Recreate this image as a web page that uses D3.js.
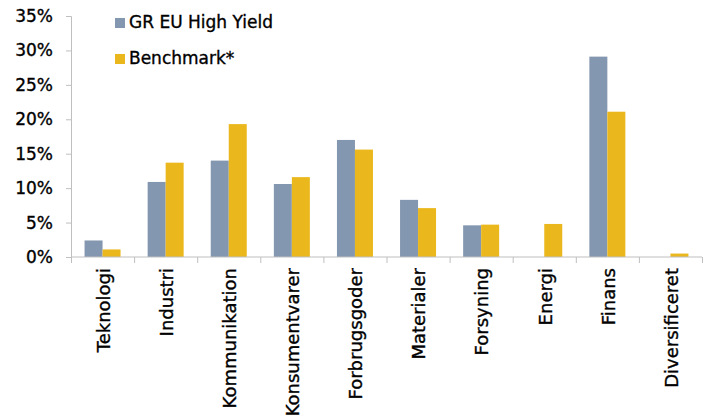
<!DOCTYPE html>
<html>
<head>
<meta charset="utf-8">
<script src="https://cdn.jsdelivr.net/npm/d3@7"></script>
<style>
  body { margin: 0; background: #fff; }
  svg { display: block; font-family: "DejaVu Sans", sans-serif; }
  text { stroke: #000; stroke-width: 0.35px; }
</style>
</head>
<body>
<div id="chart"></div>
<script>
// Data
const categories = ['Teknologi', 'Industri', 'Kommunikation', 'Konsumentvarer', 'Forbrugsgoder',
    'Materialer', 'Forsyning', 'Energi', 'Finans', 'Diversificeret'];
const seriesNames = ['GR EU High Yield', 'Benchmark*'];
const grValues = [2.4, 10.9, 14.0, 10.6, 17.0, 8.3, 4.6, 0, 29.1, 0];
const benchValues = [1.1, 13.7, 19.3, 11.6, 15.6, 7.1, 4.7, 4.8, 21.1, 0.5];
const yTicks = [0, 5, 10, 15, 20, 25, 30, 35];
const colors = ['#8497B0', '#EAB81C'];

const width = 706;
const height = 417;

const svg = d3.select('#chart')
    .append('svg')
    .attr('width', width)
    .attr('height', height);

// Scales
const x0 = d3.scaleBand()
    .domain(categories)
    .range([71, 702]);

const x1 = d3.scaleBand()
    .domain(seriesNames)
    .range([x0.bandwidth() / 2 - 18, x0.bandwidth() / 2 + 18]);

const y = d3.scaleLinear()
    .domain([0, 35])
    .range([257, 16]);

const axisColor = '#BFBFBF';

// Y axis
const yAxis = svg.append('g')
    .attr('transform', 'translate(71,0)')
    .call(d3.axisLeft(y).tickValues(yTicks).tickSize(5).tickPadding(13).tickFormat(d => d + '%'));
yAxis.select('.domain').attr('stroke', axisColor);
yAxis.selectAll('.tick line').attr('stroke', axisColor);
yAxis.selectAll('.tick text')
    .attr('font-size', '17px')
    .attr('fill', '#000')
    .attr('font-family', '"DejaVu Sans", sans-serif');

// Bars
const rows = categories.map((c, i) => ({ cat: c, values: [grValues[i], benchValues[i]] }));

const groups = svg.selectAll('.group')
    .data(rows)
    .enter()
    .append('g')
    .attr('class', 'group')
    .attr('transform', d => `translate(${x0(d.cat)},0)`);

groups.selectAll('rect')
    .data(d => d.values.map((v, i) => ({ name: seriesNames[i], value: v, i })))
    .enter()
    .filter(d => d.value > 0)
    .append('rect')
    .attr('x', d => x1(d.name))
    .attr('y', d => y(d.value))
    .attr('width', x1.bandwidth())
    .attr('height', d => y(0) - y(d.value))
    .attr('fill', d => colors[d.i]);

// X axis
const xAxis = svg.append('g')
    .attr('transform', `translate(0,${y(0)})`);
xAxis.append('line')
    .attr('x1', 71)
    .attr('x2', 702)
    .attr('stroke', axisColor);
xAxis.selectAll('.xtick')
    .data(categories.concat(['end']))
    .enter()
    .append('line')
    .attr('x1', (d, i) => 71 + i * x0.step() + 0.5)
    .attr('x2', (d, i) => 71 + i * x0.step() + 0.5)
    .attr('y1', 0)
    .attr('y2', 6)
    .attr('stroke', axisColor);

xAxis.selectAll('.xlabel')
    .data(categories)
    .enter()
    .append('text')
    .attr('transform', d => `translate(${x0(d) + x0.bandwidth() / 2 + 1},11) rotate(-90)`)
    .attr('text-anchor', 'end')
    .attr('dy', '0.35em')
    .attr('font-size', '18px')
    .attr('fill', '#000')
    .text(d => d);

// Legend
const legend = svg.selectAll('.legend')
    .data(seriesNames)
    .enter()
    .append('g')
    .attr('class', 'legend')
    .attr('transform', (d, i) => `translate(115, ${18 + i * 36})`);

legend.append('rect')
    .attr('width', 10)
    .attr('height', 10)
    .attr('fill', (d, i) => colors[i])
    .style('stroke', 'none');

legend.append('text')
    .attr('x', 14)
    .attr('y', 10)
    .attr('font-size', '17px')
    .attr('fill', '#000')
    .text(d => d);
</script>
</body>
</html>
